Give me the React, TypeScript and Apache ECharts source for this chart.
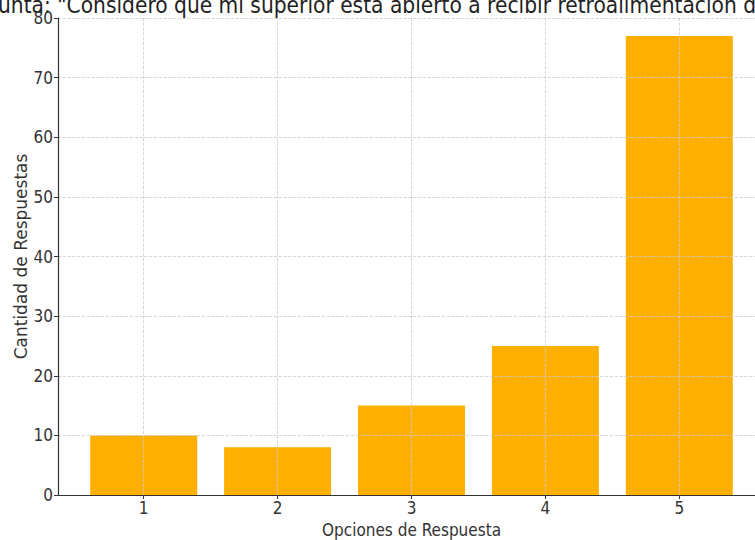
import React, { useEffect, useRef } from "react";
import * as echarts from "echarts";

const categories = [1, 2, 3, 4, 5];
const counts = [10, 8, 15, 25, 77];
const yTicks = [0, 10, 20, 30, 40, 50, 60, 70, 80];
const titleText = 'unta: "Considero que mi superior está abierto a recibir retroalimentación d';
const xName = "Opciones de Respuesta";
const yName = "Cantidad de Respuestas";

const FONT = "DejaVu Sans Condensed, DejaVu Sans, sans-serif";
const FONT_N = "DejaVu Sans, sans-serif";

export default function App() {
  const ref = useRef<HTMLDivElement>(null);
  useEffect(() => {
    if (!ref.current) return;
    const chart = echarts.init(ref.current, null, { renderer: "svg" });
    chart.setOption({
      animation: false,
      backgroundColor: "#ffffff",
      textStyle: { fontFamily: FONT },
      grid: {
        left: 58,
        top: 18,
        width: 707,
        height: 477,
        containLabel: false,
        outerBoundsMode: "none",
      },
      graphic: [
        {
          type: "text",
          left: -2,
          top: -7,
          style: { text: titleText, fontSize: 22.5, fontFamily: FONT, fill: "#222" },
        },
      ],
      xAxis: {
        type: "value",
        min: 0.36,
        max: 5.64,
        z: 5,
        name: xName,
        nameLocation: "middle",
        nameGap: 26,
        nameTextStyle: { fontSize: 17, color: "#333", fontFamily: FONT },
        axisLine: { show: true, onZero: false, lineStyle: { color: "#333", width: 1.2 } },
        axisTick: { show: true, customValues: categories, length: 4, lineStyle: { color: "#333" } },
        axisLabel: { customValues: categories, fontSize: 17, color: "#333", margin: 4, fontFamily: FONT },
        splitLine: { show: true, lineStyle: { color: "#cccccc", type: "dashed", width: 0.8 } },
      },
      yAxis: {
        type: "value",
        min: 0,
        max: 80,
        interval: 10,
        z: 5,
        name: yName,
        nameLocation: "middle",
        nameGap: 29,
        nameMoveOverlap: false,
        nameTextStyle: { fontSize: 17, color: "#333", fontFamily: FONT_N },
        axisLine: { show: true, lineStyle: { color: "#333", width: 1.2 } },
        axisTick: { show: true, length: 4, lineStyle: { color: "#333" } },
        axisLabel: {
          fontSize: 17,
          color: "#333",
          margin: 5,
          fontFamily: FONT,
          formatter: (v: number) => (yTicks.includes(v) ? String(v) : ""),
        },
        splitLine: { show: true, lineStyle: { color: "#cccccc", type: "dashed", width: 0.8 } },
      },
      series: [
        {
          type: "bar",
          data: categories.map((c, i) => [c, counts[i]]),
          barWidth: 107,
          itemStyle: { color: "#FFAF00" },
          z: 2,
        },
      ],
    });
    return () => chart.dispose();
  }, []);
  return <div ref={ref} style={{ width: 755, height: 540, position: "absolute", left: 0, top: 0 }} />;
}
